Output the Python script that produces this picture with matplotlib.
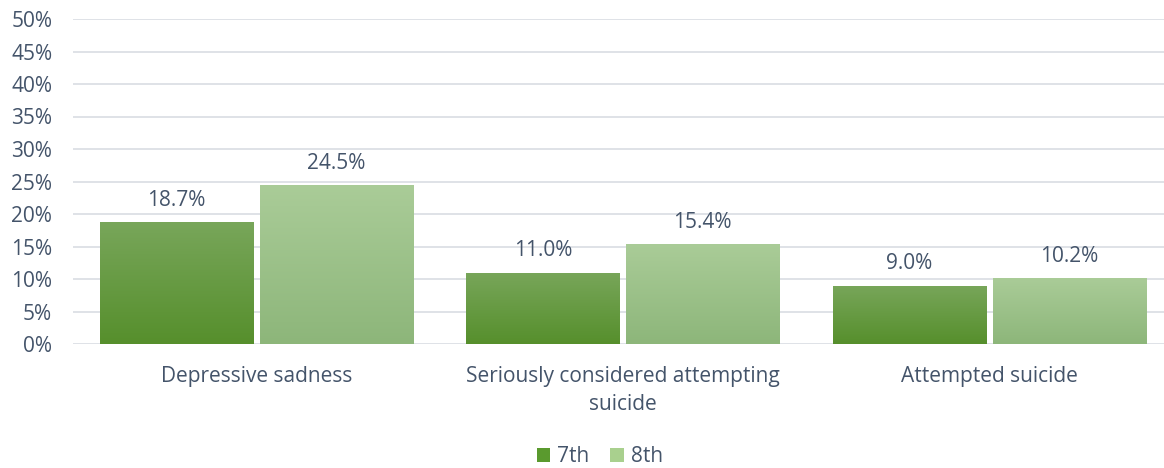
import numpy as np
import matplotlib.pyplot as plt
from matplotlib.patches import Patch
from matplotlib.colors import LinearSegmentedColormap

plt.rcParams['font.family'] = ['Open Sans', 'DejaVu Sans']

categories = ["Depressive sadness", "Seriously considered attempting\nsuicide", "Attempted suicide"]
grade7 = [18.7, 11.0, 9.0]
grade8 = [24.5, 15.4, 10.2]
series_names = ["7th", "8th"]

text_col = '#44546a'
# gradient (bottom, top) for each series
grads = [('#568f2c', '#78a65a'), ('#8db67a', '#aacc98')]
solid = ['#5a9a2e', '#a9d08e']
fs = 15

fig = plt.figure(figsize=(11.64, 4.68), dpi=100)
ax = fig.add_axes([73 / 1164, 1 - 344 / 468, 1091 / 1164, 325 / 468])

x = np.arange(len(categories))
w = 0.418
off = 0.218

for si, vals in enumerate([grade7, grade8]):
    cmap = LinearSegmentedColormap.from_list('g%d' % si, list(grads[si]))
    pos = x + (off if si else -off)
    bars = ax.bar(pos, vals, w, color='none', edgecolor='none', zorder=2)
    for b, v in zip(bars, vals):
        x0, x1 = b.get_x(), b.get_x() + b.get_width()
        im = ax.imshow(np.linspace(0, 1, 256).reshape(-1, 1), cmap=cmap, origin='lower',
                       extent=[x0, x1, 0, v], aspect='auto', zorder=2)
        im.set_clip_path(b)
        ax.annotate(f"{v:.1f}%", (b.get_x() + b.get_width() / 2, v), xytext=(0, 8),
                    textcoords='offset points', ha='center', va='bottom',
                    fontsize=fs, color=text_col)

ax.set_xlim(-0.5, -0.5 + 1091 / 366.5)
ax.set_ylim(0, 50)
ax.set_yticks(range(0, 51, 5))
ax.set_yticklabels([f"{t}%" for t in range(0, 51, 5)])
ax.set_xticks(x)
ax.set_xticklabels(categories, linespacing=1.45)
ax.tick_params(axis='both', length=0, labelsize=fs, colors=text_col)
ax.tick_params(axis='x', pad=16)
ax.tick_params(axis='y', pad=15)
ax.grid(axis='y', color='#d9dde3', linewidth=1.2, zorder=0)
ax.set_axisbelow(True)
for s in ax.spines.values():
    s.set_visible(False)

handles = [Patch(facecolor=solid[i], label=series_names[i]) for i in range(2)]
fig.legend(handles=handles, loc='center', bbox_to_anchor=(600 / 1164, 1 - 457 / 468), ncol=2,
           frameon=False, fontsize=fs, labelcolor=text_col, handlelength=0.65, handleheight=0.65,
           handletextpad=0.35, columnspacing=1.0)

fig.savefig('out.png', dpi=100)
